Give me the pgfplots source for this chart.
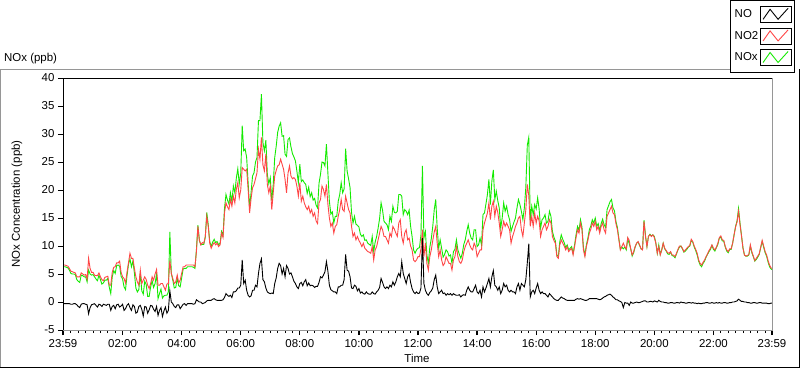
\documentclass[border=0pt]{standalone}
\usepackage{fontspec}
\setmainfont{Liberation Sans}
\usepackage{pgfplots}
\usepackage{pgfplotstable}
\pgfplotsset{compat=1.18}
\definecolor{noxgreen}{RGB}{20,235,0}
\definecolor{notwored}{RGB}{255,70,70}
\definecolor{framegray}{RGB}{150,150,150}
\pgfplotstableread{
t no no2 nox
0.00 -0.3 6.6 6.3
0.05 -0.3 6.6 6.3
0.10 -0.3 6.5 6.2
0.15 -0.3 6.4 6.1
0.20 -0.3 6.0 5.7
0.25 -0.4 5.5 5.1
0.30 -0.4 5.4 5.0
0.35 -0.3 5.3 5.0
0.40 -0.3 5.2 4.9
0.45 -0.5 4.5 4.0
0.50 -0.8 4.5 3.7
0.55 -1.0 4.5 3.5
0.60 -0.4 5.2 4.8
0.65 -0.3 5.0 4.7
0.70 -0.3 4.8 4.5
0.75 -0.4 4.9 4.5
0.80 -0.5 4.1 3.6
0.85 -2.1 7.8 5.7
0.90 -1.0 6.0 5.0
0.95 -0.5 5.3 4.8
1.00 -0.4 5.3 4.9
1.05 -0.3 4.8 4.5
1.10 -0.6 4.7 4.1
1.15 -0.9 4.7 3.8
1.20 -0.4 5.2 4.8
1.25 -0.5 4.5 4.0
1.30 -0.8 4.0 3.2
1.35 -0.4 3.8 3.4
1.40 -0.5 4.4 3.9
1.45 -0.6 4.5 3.9
1.50 -0.4 4.6 4.2
1.55 -0.4 3.0 2.6
1.60 -1.5 3.0 1.5
1.65 -0.8 5.3 4.5
1.70 -0.6 6.2 5.6
1.75 -1.2 6.3 5.1
1.80 -0.5 7.0 6.5
1.85 -0.4 7.0 6.6
1.90 -0.9 7.3 6.4
1.95 -0.7 5.3 4.6
2.00 -0.4 4.5 4.1
2.05 -1.5 4.2 2.7
2.10 -1.2 3.4 2.2
2.15 -0.6 5.3 4.7
2.20 -0.3 7.0 6.7
2.25 -1.0 8.7 7.7
2.30 -1.5 7.8 6.3
2.35 -0.5 7.8 7.3
2.40 -0.8 6.0 5.2
2.45 -2.0 4.5 2.5
2.50 -1.8 3.6 1.8
2.55 -0.8 3.0 2.2
2.60 -0.6 5.7 5.1
2.65 -1.3 3.3 2.0
2.70 -2.5 3.9 1.4
2.75 -0.8 4.5 3.7
2.80 -0.9 4.0 3.1
2.85 -2.0 3.0 1.0
2.90 -1.4 2.4 1.0
2.95 -0.6 3.3 2.7
3.00 -0.7 4.5 3.8
3.05 -1.3 3.9 2.6
3.10 -1.7 5.0 3.3
3.15 -0.8 5.8 5.0
3.20 -2.4 3.0 0.6
3.25 -1.5 3.0 1.5
3.30 -1.0 3.3 2.3
3.35 -2.6 3.3 0.7
3.40 -1.6 2.7 1.1
3.45 -0.9 2.1 1.2
3.50 -2.0 3.2 1.2
3.55 -1.5 3.3 1.8
3.60 2.0 7.4 12.5
3.65 0.0 5.1 5.1
3.70 -0.3 4.2 3.9
3.75 -0.8 3.3 2.5
3.80 -1.0 3.6 2.6
3.85 -0.5 4.8 4.3
3.90 -0.5 3.4 2.9
3.95 -1.2 3.9 2.7
4.00 -0.8 5.1 4.3
4.05 -0.4 6.3 5.9
4.10 -0.3 6.3 6.0
4.15 -0.6 6.6 6.0
4.20 -0.3 6.6 6.3
4.25 -0.3 6.6 6.3
4.30 -0.3 6.6 6.3
4.35 -0.3 6.6 6.3
4.40 -0.4 6.6 6.2
4.45 -0.3 6.3 6.0
4.50 0.4 9.0 9.4
4.55 0.2 13.5 13.7
4.60 0.0 11.0 11.0
4.65 0.0 10.2 10.2
4.70 -0.3 10.6 10.3
4.75 -0.2 10.5 10.3
4.80 -0.1 11.7 11.6
4.85 0.2 15.3 16.0
4.90 0.3 13.5 13.8
4.95 0.3 10.5 10.8
5.00 0.3 9.6 9.9
5.05 0.5 10.2 10.7
5.10 0.6 10.6 11.2
5.15 0.4 10.2 10.6
5.20 0.3 10.5 10.8
5.25 0.3 9.9 10.2
5.30 0.3 10.2 10.5
5.35 0.3 12.3 12.6
5.40 0.4 11.5 11.9
5.45 0.8 15.9 16.7
5.50 1.5 17.7 19.2
5.55 1.2 17.0 18.2
5.60 1.0 16.5 17.5
5.65 1.2 18.3 19.5
5.70 0.8 17.1 17.9
5.75 1.8 18.9 20.7
5.80 1.8 17.7 19.5
5.85 2.0 20.1 22.1
5.90 2.5 21.3 23.8
5.95 2.5 18.6 21.1
6.00 3.0 20.0 23.0
6.05 7.5 24.0 31.5
6.10 3.3 23.7 27.0
6.15 3.9 23.4 27.3
6.20 2.1 23.7 25.8
6.25 1.2 20.1 21.3
6.30 0.9 15.9 16.8
6.35 1.1 18.5 19.6
6.40 2.1 20.4 22.5
6.45 2.1 21.0 23.1
6.50 3.0 22.0 25.0
6.55 2.7 23.1 25.8
6.60 5.1 27.3 32.4
6.65 6.9 25.5 32.4
6.70 7.7 29.4 37.1
6.75 4.0 24.5 28.5
6.80 3.6 23.4 27.0
6.85 2.5 26.4 28.9
6.90 1.8 21.0 22.8
6.95 1.6 19.5 21.1
7.00 1.5 20.7 22.2
7.05 1.6 16.5 18.1
7.10 1.5 19.5 21.0
7.15 3.3 22.5 25.8
7.20 4.3 23.5 27.8
7.25 6.0 24.3 30.3
7.30 6.9 24.5 31.4
7.35 6.5 25.5 32.0
7.40 5.0 24.6 29.6
7.45 6.0 23.7 29.7
7.50 4.5 21.9 26.4
7.55 6.5 19.5 26.0
7.60 6.0 23.0 29.0
7.65 5.0 24.3 29.3
7.70 5.2 22.5 27.7
7.75 4.5 22.0 26.5
7.80 3.7 22.2 25.9
7.85 3.3 21.9 25.2
7.90 2.7 20.7 23.4
7.95 2.4 18.9 21.3
8.00 3.3 21.3 24.6
8.05 3.5 18.0 21.5
8.10 2.9 18.9 21.8
8.15 3.6 17.7 21.3
8.20 4.0 17.0 21.0
8.25 2.9 16.5 19.4
8.30 3.4 17.1 20.5
8.35 2.9 15.9 18.8
8.40 3.0 16.5 19.5
8.45 2.9 15.3 18.2
8.50 2.6 15.9 18.5
8.55 2.8 14.5 17.3
8.60 2.8 14.0 16.8
8.65 3.5 17.7 21.2
8.70 4.5 18.3 22.8
8.75 4.3 20.7 25.0
8.80 4.8 20.1 24.9
8.85 5.4 18.9 24.3
8.90 7.2 21.0 28.2
8.95 5.5 17.5 23.0
9.00 3.0 15.0 18.0
9.05 2.2 13.5 15.7
9.10 2.0 14.1 16.1
9.15 1.8 12.3 14.1
9.20 1.8 13.5 15.3
9.25 1.5 13.8 15.3
9.30 2.7 15.3 18.0
9.35 2.7 16.5 19.2
9.40 3.0 18.3 21.3
9.45 3.0 16.5 19.5
9.50 4.0 16.2 20.2
9.55 8.5 18.9 27.4
9.60 5.7 17.7 23.4
9.65 5.5 16.5 22.0
9.70 4.5 15.9 20.4
9.75 2.5 13.5 16.0
9.80 2.4 11.7 14.1
9.85 3.0 12.3 15.3
9.90 2.8 11.1 13.9
9.95 2.0 11.7 13.7
10.00 2.4 11.0 13.4
10.05 1.6 10.5 12.1
10.10 1.8 9.9 11.7
10.15 1.5 10.5 12.0
10.20 1.4 9.6 11.0
10.25 1.8 9.3 11.1
10.30 1.5 9.0 10.5
10.35 1.4 8.9 10.3
10.40 1.4 8.7 10.1
10.45 1.8 9.9 11.7
10.50 1.5 7.5 9.0
10.55 1.4 9.3 10.7
10.60 1.8 9.9 11.7
10.65 2.1 11.1 13.2
10.70 2.6 12.3 14.9
10.75 4.2 13.5 17.7
10.80 3.5 12.9 16.4
10.85 2.7 11.7 14.4
10.90 2.4 11.7 14.1
10.95 2.7 11.1 13.8
11.00 2.4 10.5 12.9
11.05 3.0 12.3 15.3
11.10 2.7 11.7 14.4
11.15 3.6 13.5 17.1
11.20 3.0 13.0 16.0
11.25 3.6 12.3 15.9
11.30 4.5 11.7 16.2
11.35 5.1 14.1 19.2
11.40 4.5 14.7 19.2
11.45 7.2 11.7 18.9
11.50 5.1 10.5 15.6
11.55 4.2 12.3 16.5
11.60 3.3 12.9 16.2
11.65 4.5 11.1 15.6
11.70 5.0 11.4 16.4
11.75 3.5 10.0 13.5
11.80 2.4 9.3 11.7
11.85 1.8 7.5 9.3
11.90 1.5 7.2 8.7
11.95 1.8 7.5 9.3
12.00 1.5 8.1 9.6
12.05 1.6 8.1 9.7
12.10 2.5 9.5 12.0
12.15 11.4 12.9 24.3
12.20 3.3 8.1 11.4
12.25 2.1 10.5 12.6
12.30 1.5 6.9 8.4
12.35 1.2 5.7 6.9
12.40 1.7 8.1 9.8
12.45 2.0 9.3 11.3
12.50 2.5 11.0 13.5
12.55 4.0 12.5 16.5
12.60 4.8 13.5 18.3
12.65 2.7 10.5 13.2
12.70 1.5 8.1 9.6
12.75 1.8 9.3 11.1
12.80 2.1 7.5 9.6
12.85 1.5 6.5 8.0
12.90 1.6 6.9 8.5
12.95 1.2 8.1 9.3
13.00 1.5 7.5 9.0
13.05 1.3 6.9 8.2
13.10 1.5 6.9 8.4
13.15 1.2 5.7 6.9
13.20 1.5 7.5 9.0
13.25 1.3 8.1 9.4
13.30 1.2 9.9 11.1
13.35 1.2 8.1 9.3
13.40 1.3 7.2 8.5
13.45 0.9 6.9 7.8
13.50 1.2 7.5 8.7
13.55 1.3 9.0 10.3
13.60 1.2 9.9 11.1
13.65 2.1 10.5 12.6
13.70 2.7 11.1 13.8
13.75 2.1 10.2 12.3
13.80 1.8 9.6 11.4
13.85 1.8 9.3 11.1
13.90 2.4 10.5 12.9
13.95 3.0 9.9 12.9
14.00 1.8 8.1 9.9
14.05 1.5 8.7 10.2
14.10 2.1 9.3 11.4
14.15 0.9 9.3 10.2
14.20 2.7 12.9 15.6
14.25 1.8 14.1 15.9
14.30 2.5 15.0 17.5
14.35 3.3 15.9 19.2
14.40 4.2 17.7 21.9
14.45 2.7 14.7 17.4
14.50 4.5 17.1 21.6
14.55 5.6 18.0 23.6
14.60 3.0 15.3 18.3
14.65 2.7 17.1 19.8
14.70 2.1 16.0 18.1
14.75 2.7 14.1 16.8
14.80 1.5 11.7 13.2
14.85 2.1 12.9 15.0
14.90 3.3 14.4 17.7
14.95 2.7 13.5 16.2
15.00 3.0 14.1 17.1
15.05 2.1 13.5 15.6
15.10 1.8 12.9 14.7
15.15 2.1 10.5 12.6
15.20 1.8 11.7 13.5
15.25 1.8 12.5 14.3
15.30 1.5 13.5 15.0
15.35 2.7 14.1 16.8
15.40 3.3 15.0 18.3
15.45 2.1 15.3 17.4
15.50 3.3 12.9 16.2
15.55 3.0 11.7 14.7
15.60 2.7 14.1 16.8
15.65 4.0 16.5 20.5
15.70 7.0 21.0 28.0
15.75 10.4 19.0 29.4
15.80 0.9 13.5 14.4
15.85 1.8 15.3 17.1
15.90 2.1 13.5 15.6
15.95 1.5 15.9 17.4
16.00 2.5 14.1 16.6
16.05 3.3 15.3 18.6
16.10 2.1 14.5 16.6
16.15 1.5 11.7 13.2
16.20 1.8 12.9 14.7
16.25 1.5 13.5 15.0
16.30 1.5 14.1 15.6
16.35 1.2 12.9 14.1
16.40 0.9 13.5 14.4
16.45 1.5 14.7 16.2
16.50 1.2 14.1 15.3
16.55 0.9 11.7 12.6
16.60 0.6 11.0 11.6
16.65 0.4 10.5 10.9
16.70 0.3 8.1 8.4
16.75 0.3 7.8 8.1
16.80 0.6 10.2 10.8
16.85 0.9 11.1 12.0
16.90 0.7 10.5 11.2
16.95 0.6 10.0 10.6
17.00 0.4 9.3 9.7
17.05 0.3 9.9 10.2
17.10 0.3 9.0 9.3
17.15 0.3 9.3 9.6
17.20 0.3 9.6 9.9
17.25 0.3 8.4 8.7
17.30 0.3 9.9 10.2
17.35 0.5 11.5 12.0
17.40 0.6 12.9 13.5
17.45 0.5 12.3 12.8
17.50 0.6 14.1 14.7
17.55 0.5 12.9 13.4
17.60 0.4 9.3 9.7
17.65 0.3 8.1 8.4
17.70 0.3 9.9 10.2
17.75 0.4 11.0 11.4
17.80 0.6 12.3 12.9
17.85 0.6 13.0 13.6
17.90 0.6 14.1 14.7
17.95 0.6 13.5 14.1
18.00 0.6 14.4 15.0
18.05 0.6 12.9 13.5
18.10 0.5 13.5 14.0
18.15 0.4 12.3 12.7
18.20 0.5 13.5 14.0
18.25 0.7 14.1 14.8
18.30 0.9 12.9 13.8
18.35 1.0 12.3 13.3
18.40 1.2 15.3 16.5
18.45 1.3 15.9 17.2
18.50 1.4 16.5 17.9
18.55 1.2 17.1 18.3
18.60 0.9 15.9 16.8
18.65 0.7 15.6 16.3
18.70 0.4 14.0 14.4
18.75 0.4 12.9 13.3
18.80 0.2 11.1 11.3
18.85 0.1 9.3 9.4
18.90 -0.1 9.9 9.8
18.95 -1.0 10.5 9.5
19.00 -0.1 9.9 9.8
19.05 -0.2 9.5 9.3
19.10 -0.2 11.5 11.3
19.15 -0.6 11.0 10.4
19.20 0.0 9.5 9.5
19.25 -0.2 8.4 8.2
19.30 -0.2 9.0 8.8
19.35 -0.1 9.9 9.8
19.40 0.0 10.5 10.5
19.45 -0.1 10.8 10.7
19.50 -0.1 10.2 10.1
19.55 0.0 9.5 9.5
19.60 0.1 9.3 9.4
19.65 0.2 14.4 14.6
19.70 0.2 11.7 11.9
19.75 0.0 9.9 9.9
19.80 0.0 11.7 11.7
19.85 0.1 12.0 12.1
19.90 0.1 11.7 11.8
19.95 0.0 12.0 12.0
20.00 0.2 11.5 11.7
20.05 0.1 10.5 10.6
20.10 0.0 8.7 8.7
20.15 0.3 9.9 10.2
20.20 0.1 8.4 8.5
20.25 0.0 9.3 9.3
20.30 0.0 10.5 10.5
20.35 -0.1 9.6 9.5
20.40 -0.1 9.2 9.1
20.45 -0.2 8.8 8.6
20.50 -0.2 8.7 8.5
20.55 -0.1 9.0 8.9
20.60 -0.1 8.4 8.3
20.65 -0.2 8.4 8.2
20.70 -0.2 8.1 7.9
20.75 -0.1 8.7 8.6
20.80 -0.1 9.4 9.3
20.85 -0.2 10.0 9.8
20.90 0.0 10.0 10.0
20.95 -0.1 9.6 9.5
21.00 -0.1 9.0 8.9
21.05 -0.2 9.3 9.1
21.10 -0.2 9.6 9.4
21.15 -0.1 9.9 9.8
21.20 -0.1 10.1 10.0
21.25 -0.2 11.2 11.0
21.30 -0.1 10.8 10.7
21.35 -0.2 10.0 9.8
21.40 -0.2 9.4 9.2
21.45 -0.3 8.7 8.4
21.50 -0.2 7.5 7.3
21.55 -0.3 6.9 6.6
21.60 -0.3 6.6 6.3
21.65 -0.2 7.1 6.9
21.70 -0.2 7.5 7.3
21.75 -0.1 8.1 8.0
21.80 -0.1 8.6 8.5
21.85 -0.2 9.2 9.0
21.90 -0.2 9.6 9.4
21.95 -0.1 10.2 10.1
22.00 -0.2 9.6 9.4
22.05 -0.2 9.3 9.1
22.10 -0.1 9.8 9.7
22.15 -0.2 10.5 10.3
22.20 -0.1 11.5 11.4
22.25 -0.2 11.8 11.6
22.30 -0.2 11.1 10.9
22.35 -0.1 11.0 10.9
22.40 -0.1 9.9 9.8
22.45 -0.2 9.3 9.1
22.50 -0.2 9.0 8.8
22.55 -0.1 9.5 9.4
22.60 -0.1 9.5 9.4
22.65 0.0 10.5 10.5
22.70 0.0 12.0 12.0
22.75 0.1 13.4 13.5
22.80 0.2 14.3 14.5
22.85 0.5 16.2 16.7
22.90 0.3 13.8 14.1
22.95 0.1 11.8 11.9
23.00 0.1 9.6 9.7
23.05 0.0 8.4 8.4
23.10 0.0 8.2 8.2
23.15 -0.1 8.3 8.2
23.20 -0.1 8.5 8.4
23.25 -0.2 10.2 10.0
23.30 -0.2 9.0 8.8
23.35 -0.1 8.2 8.1
23.40 -0.1 7.4 7.3
23.45 -0.2 7.8 7.6
23.50 -0.2 8.2 8.0
23.55 -0.1 8.6 8.5
23.60 -0.1 9.8 9.7
23.65 -0.2 11.0 10.8
23.70 -0.2 10.0 9.8
23.75 -0.2 9.0 8.8
23.80 -0.2 8.4 8.2
23.85 -0.3 7.4 7.1
23.90 -0.3 6.6 6.3
23.95 -0.2 6.1 5.9
23.98 -0.2 6.0 5.8
}\noxdata
\begin{document}
\begin{tikzpicture}
\useasboundingbox (0,0) rectangle (800bp,369bp);
\fill[white] (0,0) rectangle (800bp,369bp);
\draw[framegray, line width=1bp] (0.5bp,1.5bp) -- (0.5bp,299.5bp) -- (732bp,299.5bp);
\draw[black, line width=1bp] (0.5bp,1.5bp) -- (799.5bp,1.5bp) -- (799.5bp,299.5bp);
\begin{axis}[
  at={(63bp,39bp)}, anchor=south west,
  scale only axis, width=709bp, height=252bp,
  xmin=-0.0167, xmax=23.983, ymin=-5, ymax=40,
  axis line style={draw=none},
  tick align=outside,
  xtick pos=bottom, ytick pos=left,
  xtick={-0.0167,2,4,6,8,10,12,14,16,18,20,22,23.983},
  xticklabels={23:59,02:00,04:00,06:00,08:00,10:00,12:00,14:00,16:00,18:00,20:00,22:00,23:59},
  minor xtick={0.25,0.5,...,23.75},
  ytick={-5,0,5,10,15,20,25,30,35,40},
  yticklabels={-5,0,5,10,15,20,25,30,35,40},
  major tick length=5bp, minor tick length=3bp,
  every tick/.style={black, line width=0.8bp},
  major x tick style={line width=1.2bp},
  ticklabel style={font=\fontsize{11.5}{13}\selectfont},
  /pgf/number format/assume math mode=true,
  xticklabel style={yshift=-1bp},
  label style={font=\fontsize{11.5}{13}\selectfont},
  xlabel={Time},
  xlabel style={at={(axis description cs:0.4993,-0.111)}, anchor=center},
  ylabel={NOx Concentration (ppb)},
  ylabel style={at={(axis description cs:-0.0649,0.5)}, anchor=center},
  title={NOx (ppb)},
  every axis title shift=0pt,
  title style={at={(axis description cs:-0.0832,1.0754)}, anchor=west, yshift=0pt, inner sep=0pt, font=\fontsize{11.5}{13}\selectfont},
  reverse legend,
  legend plot pos=right,
  legend cell align=left,
  legend style={at={(axis description cs:0.9408,1.0238)}, anchor=south west,
    draw=black, fill=white, font=\fontsize{11.5}{13}\selectfont,
    inner xsep=3bp, inner ysep=6bp, row sep=5bp,
    nodes={inner sep=1.5bp}},
  legend image code/.code={
    \draw[black, line width=0.6bp, fill=white] (0bp,-8bp) rectangle (31bp,8bp);
    \draw[#1] (3bp,-5bp) -- (10bp,5bp) -- (18bp,-5bp) -- (28bp,6bp);
  },
  after end axis/.code={
    \draw[black, line width=1bp] (rel axis cs:0,0) -- (rel axis cs:0,1) -- (rel axis cs:1,1);
    \draw[framegray, line width=1bp] (rel axis cs:1,1) -- (rel axis cs:1,0) -- (rel axis cs:0,0);
  },
]
\addplot[noxgreen, line width=0.9bp] table[x=t, y=nox] {\noxdata};
\addlegendentry{NOx}
\addplot[notwored, line width=0.9bp] table[x=t, y=no2] {\noxdata};
\addlegendentry{NO2}
\addplot[black, line width=0.9bp] table[x=t, y=no] {\noxdata};
\addlegendentry{NO}
\end{axis}
\end{tikzpicture}
\end{document}
